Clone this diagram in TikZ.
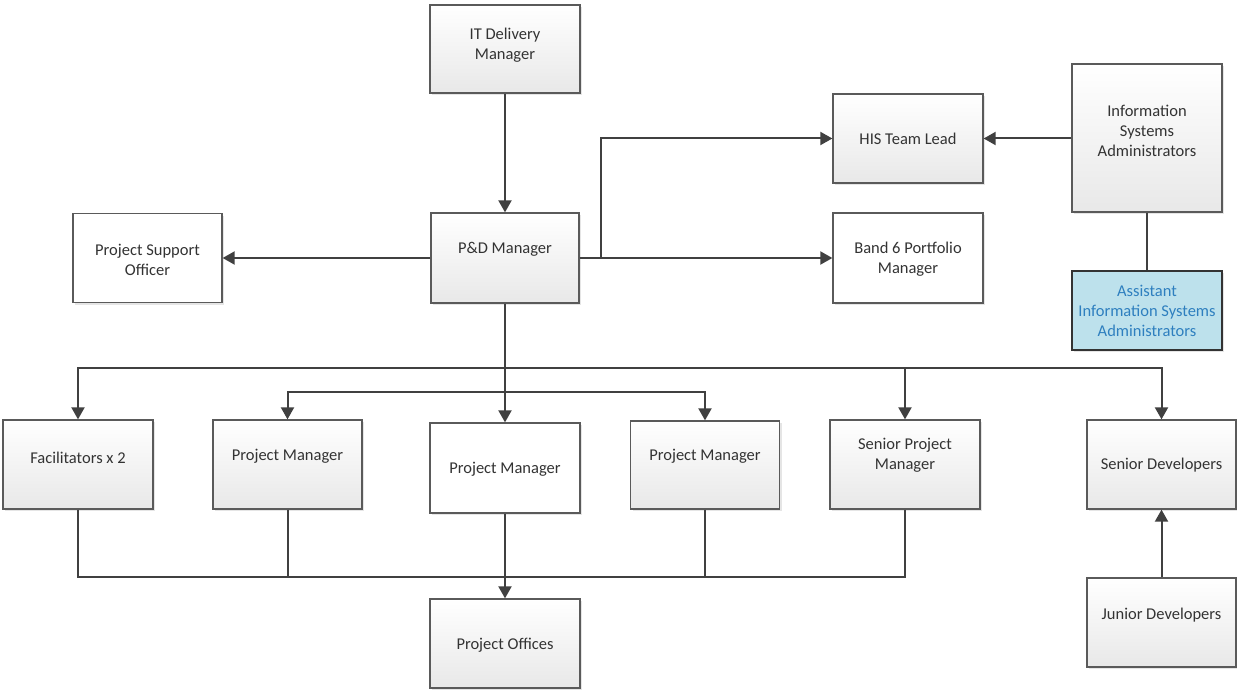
\documentclass[tikz,border=0pt]{standalone}
\usepackage{fontspec}
\setmainfont{Carlito}
\usetikzlibrary{arrows.meta,shadows,calc}
\definecolor{linec}{HTML}{404040}
\definecolor{boxb}{HTML}{5A5A5A}
\definecolor{txtc}{HTML}{333333}
\definecolor{asstfill}{HTML}{BDE1EC}
\definecolor{assttxt}{HTML}{2E7FBF}
\tikzset{
  orgbox/.style={draw=boxb, line width=1.3pt, inner sep=0pt,
    drop shadow={shadow xshift=2pt, shadow yshift=-2pt, fill=black!20, opacity=0.5}},
  gradbox/.style={orgbox, top color=white, bottom color=black!9},
  plainbox/.style={orgbox, fill=white},
  lbl/.style={align=center, text=txtc, font=\fontsize{16.5}{20}\selectfont, inner sep=0pt},
  conn/.style={draw=linec, line width=2pt},
  arr/.style={conn, -{Triangle[length=12pt,width=13pt]}},
}
\begin{document}
\begin{tikzpicture}[x=1pt,y=-1pt]
\useasboundingbox (0,0) rectangle (1237,690);
\fill[white] (0,0) rectangle (1237,690);

% boxes
\node[gradbox, minimum width=150pt, minimum height=88pt] (it) at (505,49) {};
\node[gradbox, minimum width=148pt, minimum height=90pt] (pd) at (505,258) {};
\node[plainbox, minimum width=149pt, minimum height=89pt] (pso) at (147.5,258) {};
\node[gradbox, minimum width=150pt, minimum height=89pt] (his) at (908,138.5) {};
\node[plainbox, minimum width=150pt, minimum height=90pt] (b6) at (908,258) {};
\node[gradbox, minimum width=150pt, minimum height=148pt] (isa) at (1147,138) {};
\node[orgbox, draw=black!80, fill=asstfill, minimum width=150pt, minimum height=79pt] (asst) at (1147,310.5) {};
\node[gradbox, minimum width=150pt, minimum height=89pt] (fac) at (78,464.5) {};
\node[gradbox, minimum width=149pt, minimum height=89pt] (pm1) at (287.5,464.5) {};
\node[plainbox, minimum width=150pt, minimum height=90pt] (pm2) at (505,468) {};
\node[gradbox, minimum width=149pt, minimum height=88pt] (pm3) at (705,465) {};
\node[gradbox, minimum width=150pt, minimum height=89pt] (spm) at (905,464.5) {};
\node[gradbox, minimum width=149pt, minimum height=89pt] (sd) at (1161.5,464.5) {};
\node[gradbox, minimum width=149pt, minimum height=89pt] (jd) at (1161.5,622.5) {};
\node[gradbox, minimum width=150pt, minimum height=89pt] (po) at (505,643.5) {};

% labels
\node[lbl] (itT) at ([yshift=4pt]it.center) {IT Delivery\\Manager};
\node[lbl] (pdT) at ([yshift=9pt]pd.center) {P\&D Manager};
\node[lbl] (psoT) at ([yshift=-2pt]pso.center) {Project Support\\Officer};
\node[lbl] (hisT) at (his.center) {HIS Team Lead};
\node[lbl] (b6T) at ([yshift=-1pt]b6.center) {Band 6 Portfolio\\Manager};
\node[lbl] (isaT) at ([yshift=7pt]isa.center) {Information\\Systems\\Administrators};
\node[lbl, text=assttxt] (asstT) at (asst.center) {Assistant\\Information Systems\\Administrators};
\node[lbl] (facT) at ([yshift=7pt]fac.center) {Facilitators x 2};
\node[lbl] (pm1T) at ([yshift=8pt]pm1.center) {Project Manager};
\node[lbl] (pm2T) at ([yshift=-1pt]pm2.center) {Project Manager};
\node[lbl] (pm3T) at ([yshift=9pt]pm3.center) {Project Manager};
\node[lbl] (spmT) at ([yshift=9pt]spm.center) {Senior Project\\Manager};
\node[lbl] (sdT) at ([yshift=-1pt]sd.center) {Senior Developers};
\node[lbl] (jdT) at ([yshift=7pt]jd.center) {Junior Developers};
\node[lbl] (poT) at ([yshift=-2pt]po.center) {Project Offices};

% junction coordinates
\coordinate (hj) at (601,258);
\coordinate (bus) at (505,368);
\coordinate (bus2) at (505,392);
\coordinate (bus3) at (505,577);

% connectors
\draw[arr] (it.south) -- (pd.north);
\draw[arr] (pd.west) -- (pso.east);
\draw[arr] (pd.east) -- (b6.west);
\draw[arr] (hj) |- (his.west);
\draw[arr] (isa.west |- his.east) -- (his.east);
\draw[conn] (isa.south) -- (asst.north);

\draw[conn] (pd.south) -- (bus);
\draw[arr] (bus) -| (fac.north);
\draw[arr] (bus) -| (spm.north);
\draw[arr] (bus) -| (sd.north);
\draw[arr] (bus2) -| (pm1.north);
\draw[arr] (bus2) -| (pm3.north);
\draw[arr] (bus) -- (pm2.north);

\draw[conn] (fac.south) |- (bus3);
\draw[conn] (pm1.south) |- (bus3);
\draw[conn] (pm3.south) |- (bus3);
\draw[conn] (spm.south) |- (bus3);
\draw[arr] (pm2.south) -- (po.north);

\draw[arr] (jd.north) -- (sd.south);
\end{tikzpicture}
\end{document}
